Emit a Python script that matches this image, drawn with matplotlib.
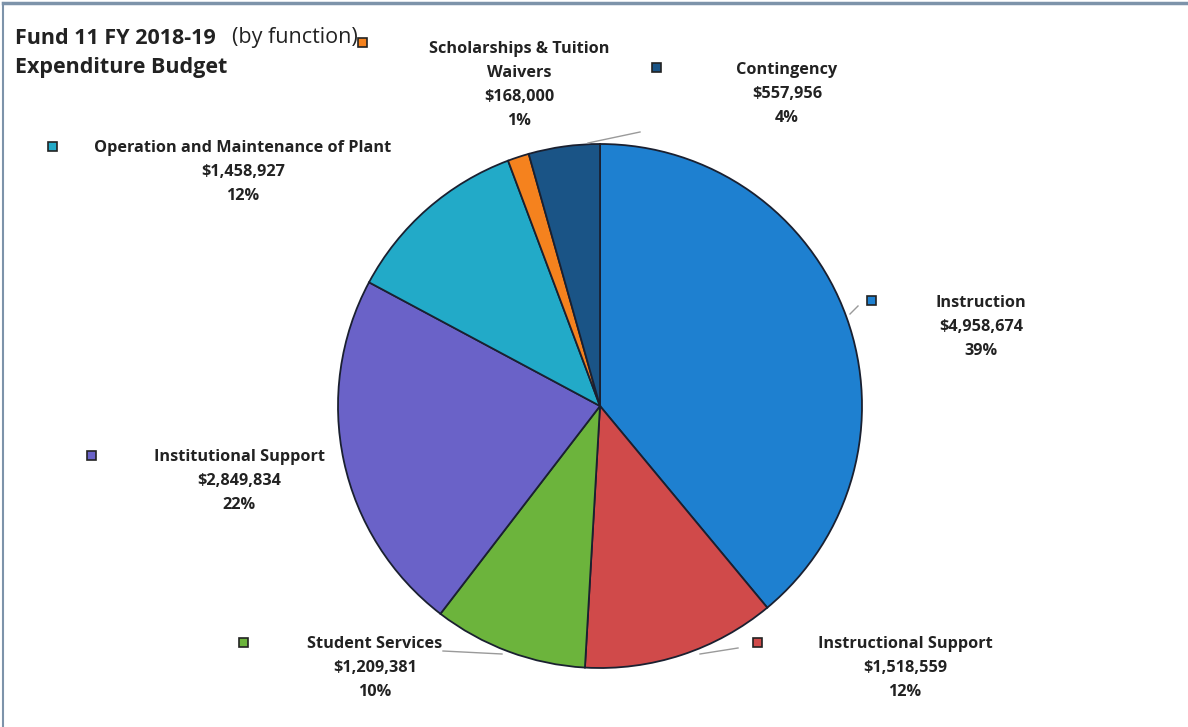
import matplotlib
matplotlib.use("Agg")
import matplotlib.pyplot as plt
from matplotlib.patches import Rectangle

# Fund 11 expenditure budget by function
categories = [
    "Instruction",
    "Instructional Support",
    "Student Services",
    "Institutional Support",
    "Operation and Maintenance of Plant",
    "Scholarships & Tuition\nWaivers",
    "Contingency",
]
amounts = [4958674, 1518559, 1209381, 2849834, 1458927, 168000, 557956]
percents = ["39%", "12%", "10%", "22%", "12%", "1%", "4%"]
colors = ["#1e80d0", "#d04a4a", "#6cb43c", "#6a62c8", "#22aac8", "#f5821e", "#1a5486"]

# label block centre (x, first line y) and legend key position, in pixels
label_pos = [(981, 303), (905, 644), (375, 644), (239, 457), (243, 148), (519, 49), (787, 70)]
key_pos = [(871, 300), (757, 642), (243, 642), (91, 455), (52, 146), (362, 42), (656, 67)]

W, H = 1188, 727
fig = plt.figure(figsize=(W / 100, H / 100), dpi=100)
ax = fig.add_axes([0, 0, 1, 1])

# y axis points down, so counterclock=True turns clockwise on screen
ax.set_ylim(H, 0)
ax.pie(amounts, colors=colors, center=(600, 406), radius=262,
       startangle=270, counterclock=True, frame=True,
       wedgeprops=dict(edgecolor="#1a2030", linewidth=1.3))
ax.set_xlim(0, W)
ax.set_ylim(H, 0)
ax.set_aspect("equal")
ax.axis("off")

font = dict(family=["Open Sans", "DejaVu Sans"], fontweight="bold",
            fontsize=11.7, color="#222222", ha="center", va="center")
step = 24
for name, amt, pct, (cx, cy), (kx, ky), col in zip(categories, amounts, percents,
                                                   label_pos, key_pos, colors):
    lines = name.split("\n") + ["${:,}".format(amt), pct]
    for i, line in enumerate(lines):
        ax.text(cx, cy + i * step, line, **font)
    ax.add_patch(Rectangle((kx - 4.5, ky - 4.5), 9, 9, facecolor=col,
                           edgecolor="#222222", linewidth=1.2))

# leader lines
leaders = [((850, 314), (858, 306)), ((700, 654), (738, 648)),
           ((443, 651), (502, 654)), ((588, 143), (640, 132))]
for (x0, y0), (x1, y1) in leaders:
    ax.plot([x0, x1], [y0, y1], color="#9a9a9a", linewidth=1.0)

# title
title_font = dict(family=["Open Sans", "DejaVu Sans"], fontsize=15.5,
                  color="#222222", va="center")
ax.text(15, 38, "Fund 11 FY 2018-19", fontweight="bold", **title_font)
ax.text(232, 38, "(by function)", **title_font)
ax.text(15, 67, "Expenditure Budget", fontweight="bold", **title_font)

# frame edges
ax.plot([3, W], [3, 3], color="#7d93aa", linewidth=2.5)
ax.plot([3, 3], [3, H], color="#7d93aa", linewidth=1.5)

fig.savefig("out.png", dpi=100, facecolor="white")
